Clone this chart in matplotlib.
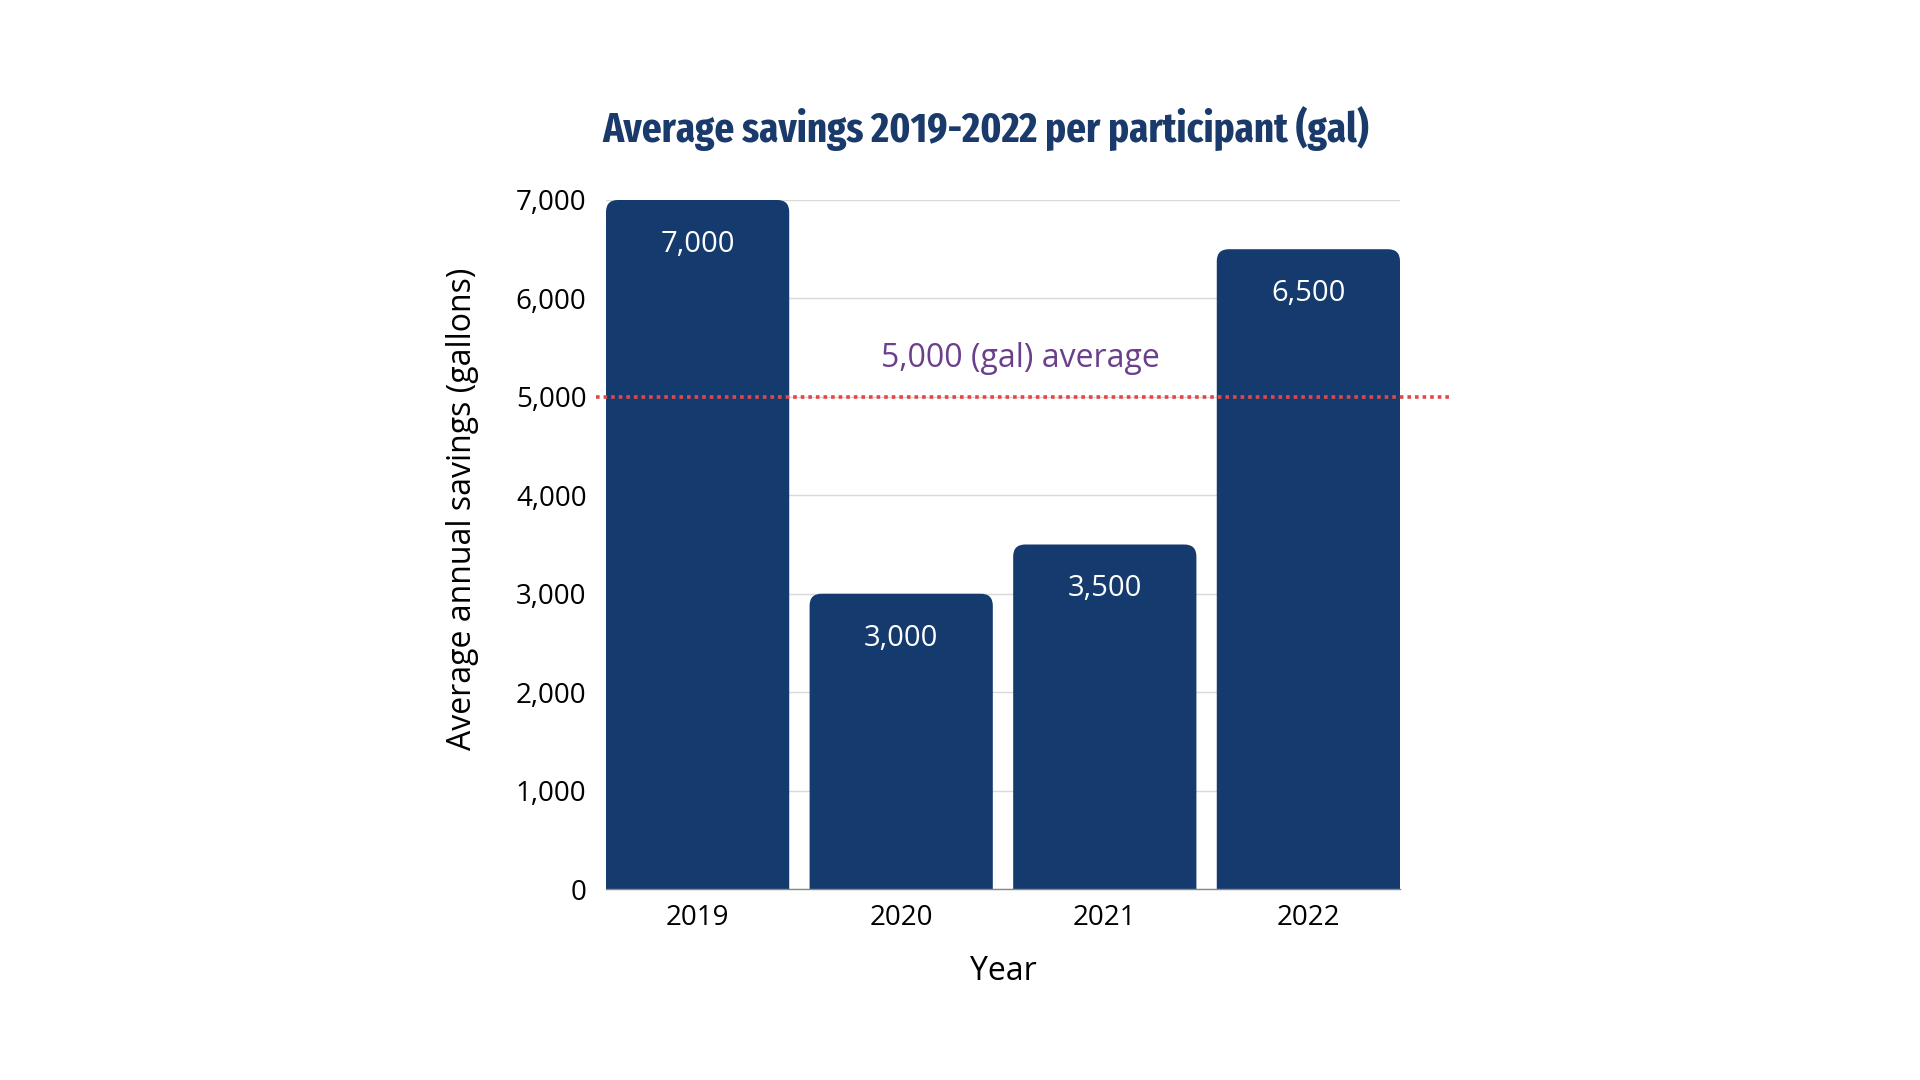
import matplotlib
matplotlib.use("Agg")
import matplotlib.pyplot as plt
from matplotlib.patches import FancyBboxPatch
from matplotlib import font_manager as fm

years = ["2019", "2020", "2021", "2022"]
savings = [7000, 3000, 3500, 6500]
average = 5000
yticks = [0, 1000, 2000, 3000, 4000, 5000, 6000, 7000]
ytick_labels = ["0", "1,000", "2,000", "3,000", "4,000", "5,000", "6,000", "7,000"]
value_labels = ["7,000", "3,000", "3,500", "6,500"]
title = "Average savings 2019-2022 per participant (gal)"
avg_label = "5,000 (gal) average"

NAVY = "#143a6e"


def pick_condensed_bold():
    best = None
    for f in fm.fontManager.ttflist:
        name = f.name.lower()
        w = f.weight if isinstance(f.weight, int) else (700 if "bold" in str(f.weight) else 400)
        if w < 600 or f.style != "normal":
            continue
        st = str(f.stretch)
        score = None
        if "narrow" in name:
            score = 5
        elif "extracondensed" in name.replace(" ", "") or st == "extra-condensed":
            score = 1
        elif "semicondensed" in name.replace(" ", "") or st == "semi-condensed":
            score = 4
        elif "condensed" in name or st == "condensed":
            score = 2
        if score is None:
            continue
        score = score * 1000 + abs(w - 700)
        if best is None or score < best[0]:
            best = (score, f.fname)
    if best:
        return fm.FontProperties(fname=best[1])
    return fm.FontProperties(family="DejaVu Sans", weight="bold")


fig = plt.figure(figsize=(19.2, 10.8), dpi=100)
ax = fig.add_axes([606/1920, 1-889/1080, (1400-606)/1920, (889-200)/1080])

x = list(range(len(years)))
bars = ax.bar(x, savings, width=0.9, color=NAVY, zorder=2)
ax.set_xlim(-0.45, 3.45)
ax.set_ylim(0, 7000)

fig.canvas.draw()
px_per_x = ax.transData.transform((1, 0))[0] - ax.transData.transform((0, 0))[0]
px_per_y = ax.transData.transform((0, 1000))[1] - ax.transData.transform((0, 0))[1]
r_px = 12
rx = r_px / px_per_x
ry = r_px / px_per_y * 1000
for b in bars:
    b.set_visible(False)
    bx, bw, bh = b.get_x(), b.get_width(), b.get_height()
    p = FancyBboxPatch((bx + rx, -ry * 2), bw - 2 * rx, bh + ry * 2 - ry,
                       boxstyle=f"round,pad={rx},rounding_size={rx}",
                       mutation_aspect=ry / rx, facecolor=NAVY, edgecolor="none",
                       zorder=2, clip_on=True)
    ax.add_patch(p)

for xi, v, lab in zip(x, savings, value_labels):
    ax.text(xi, v - 450, lab, ha="center", va="center", color="white",
            fontsize=21, family="Open Sans")

ax.set_yticks(yticks)
ax.set_yticklabels(ytick_labels, fontsize=20, family="Open Sans")
ax.set_xticks(x)
ax.set_xticklabels(years, fontsize=20, family="Open Sans")
ax.tick_params(axis="y", length=0, pad=14)
ax.tick_params(axis="x", length=0, pad=11)
ax.grid(axis="y", color="#d9d9d9", linewidth=1, zorder=0)
ax.set_axisbelow(True)
for s in ["top", "right", "left"]:
    ax.spines[s].set_visible(False)
ax.spines["bottom"].set_color("#888888")
ax.spines["bottom"].set_linewidth(1)
ax.spines["bottom"].set_zorder(3)

ax.set_xlabel("Year", fontsize=23, family="Open Sans", labelpad=16)
ax.set_ylabel("Average annual savings (gallons)", fontsize=23, family="Open Sans")
ax.yaxis.set_label_coords(-0.16, 0.552)

ax.plot([-0.50, 3.69], [average, average], color="#e04848", linewidth=2.6,
        linestyle=(0, (1, 1.1)), dash_capstyle="butt", clip_on=False, zorder=4)
ax.text(1.584, average + 390, avg_label, ha="center", va="center",
        color="#6b3f8c", fontsize=23, family="Open Sans")

fp = pick_condensed_bold()
fp.set_size(30)
t = fig.text(986/1920, 1-129/1080, title, ha="center", va="center",
             fontproperties=fp, color="#1a3a6b")
fig.canvas.draw()
w = t.get_window_extent().width
fp.set_size(30 * 767 / w)
t.set_fontproperties(fp)

fig.savefig("out.png", dpi=100, facecolor="white")
